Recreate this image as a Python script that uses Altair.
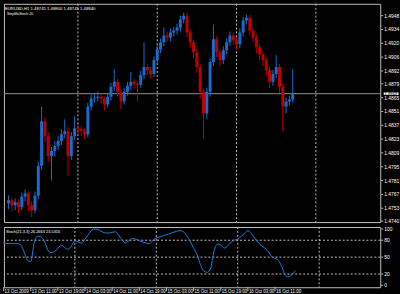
import altair as alt
import pandas as pd

# ---- data (hours since 13 Oct 2009 00:00, H1 bars) ----
hours = list(range(3, 90))
opens = [1.4758,1.4761,1.4756,1.4759,1.4754,1.4765,1.4768,1.4756,1.4751,1.4766,
         1.4796,1.4841,1.4826,1.4806,1.4811,1.4816,1.4821,1.4828,1.4831,1.4806,
         1.4826,1.4834,1.4833,1.4831,1.4828,1.4856,1.4864,1.4865,1.4866,1.4864,
         1.4858,1.4866,1.4876,1.4881,1.4871,1.4861,1.4871,1.4877,1.4881,1.4879,
         1.4878,1.4888,1.4896,1.4893,1.4889,1.4903,1.4914,1.4921,1.4928,1.4926,
         1.4931,1.4933,1.4936,1.4944,1.4948,1.4931,1.4921,1.4911,1.4896,1.4871,
         1.4849,1.4871,1.4901,1.4924,1.4911,1.4903,1.4913,1.4921,1.4928,1.4923,
         1.4919,1.4931,1.4943,1.4946,1.4933,1.4926,1.4916,1.4909,1.4903,1.4893,
         1.4881,1.4889,1.4896,1.4876,1.4856,1.4861,1.4863]
highs = [1.4766,1.4764,1.4763,1.4762,1.4769,1.4772,1.4770,1.4760,1.4770,1.4800,
         1.4856,1.4845,1.4830,1.4815,1.4821,1.4826,1.4833,1.4843,1.4835,1.4830,
         1.4846,1.4838,1.4836,1.4834,1.4860,1.4868,1.4869,1.4871,1.4869,1.4866,
         1.4870,1.4880,1.4894,1.4884,1.4874,1.4875,1.4881,1.4891,1.4884,1.4882,
         1.4892,1.4921,1.4899,1.4896,1.4907,1.4918,1.4925,1.4936,1.4932,1.4935,
         1.4937,1.4940,1.4948,1.4951,1.4951,1.4934,1.4924,1.4914,1.4899,1.4874,
         1.4875,1.4905,1.4939,1.4927,1.4914,1.4917,1.4925,1.4932,1.4931,1.4926,
         1.4935,1.4947,1.4949,1.4949,1.4936,1.4929,1.4919,1.4912,1.4906,1.4896,
         1.4893,1.4908,1.4899,1.4879,1.4865,1.4867,1.4894]
lows = [1.4752,1.4750,1.4751,1.4748,1.4751,1.4760,1.4750,1.4744,1.4748,1.4762,
        1.4792,1.4820,1.4800,1.4781,1.4805,1.4812,1.4817,1.4824,1.4786,1.4802,
        1.4822,1.4828,1.4826,1.4823,1.4825,1.4852,1.4860,1.4861,1.4859,1.4852,
        1.4855,1.4862,1.4872,1.4866,1.4853,1.4858,1.4867,1.4873,1.4874,1.4861,
        1.4875,1.4884,1.4888,1.4884,1.4886,1.4899,1.4910,1.4917,1.4921,1.4922,
        1.4927,1.4929,1.4932,1.4940,1.4926,1.4916,1.4905,1.4890,1.4864,1.4824,
        1.4843,1.4866,1.4897,1.4906,1.4897,1.4899,1.4909,1.4917,1.4918,1.4914,
        1.4915,1.4927,1.4939,1.4928,1.4921,1.4910,1.4903,1.4897,1.4887,1.4875,
        1.4877,1.4885,1.4870,1.4831,1.4849,1.4857,1.4860]
closes = [1.4761,1.4756,1.4759,1.4754,1.4765,1.4768,1.4756,1.4751,1.4766,1.4796,
          1.4841,1.4826,1.4806,1.4811,1.4816,1.4821,1.4828,1.4831,1.4806,1.4826,
          1.4834,1.4833,1.4831,1.4828,1.4856,1.4864,1.4865,1.4866,1.4864,1.4858,
          1.4866,1.4876,1.4881,1.4871,1.4861,1.4871,1.4877,1.4881,1.4879,1.4878,
          1.4888,1.4896,1.4893,1.4889,1.4903,1.4914,1.4921,1.4928,1.4926,1.4931,
          1.4933,1.4936,1.4944,1.4948,1.4931,1.4921,1.4911,1.4896,1.4871,1.4849,
          1.4871,1.4901,1.4924,1.4911,1.4903,1.4913,1.4921,1.4928,1.4923,1.4919,
          1.4931,1.4943,1.4946,1.4933,1.4926,1.4916,1.4909,1.4903,1.4893,1.4881,
          1.4889,1.4896,1.4876,1.4856,1.4861,1.4863,1.4869]
stoch = [75,74,74,74,74,72,60,45,42,75,
         87,86,78,63,58,60,66,71,67,64,
         70,79,77,75,82,90,98,100,99,95,
         93,93,94,95,88,80,75,80,83,82,
         79,77,75,74,80,84,86,88,90,92,
         94,96,97,95,88,78,66,55,37,25,
         23,30,60,73,72,66,70,76,80,82,
         87,92,97,92,84,76,70,66,60,51,
         48,44,33,18,15,19,26]

price_ticks = [1.4948, 1.4934, 1.4920, 1.4906, 1.4892, 1.4879, 1.4865, 1.4851,
               1.4837, 1.4823, 1.4809, 1.4795, 1.4781, 1.4767, 1.4753, 1.4740]
time_tick_hours = [3, 11, 19, 27, 35, 43, 51, 59, 67, 75, 83]
time_tick_labels = ["13 Oct 2009", "13 Oct 11:00", "13 Oct 19:00", "14 Oct 03:00",
                    "14 Oct 11:00", "14 Oct 19:00", "15 Oct 03:00", "15 Oct 11:00",
                    "15 Oct 19:00", "16 Oct 03:00", "16 Oct 11:00"]
day_lines = [24, 48, 72, 96]
stoch_levels = [20, 50, 80]
stoch_ticks = [0, 20, 50, 80, 100]

header = "EURUSD,H1  1.48745 1.48800 1.48745 1.48840"
indicator = "StepMaStoch 20"
stoch_title = "Stoch(21,3,3) 26.2663 23.5316"

# ---- styling ----
GRID = "#c0c0c0"
FONT = "Liberation Sans"
W = 381
H_TOP = 221
H_BOT = 61

df = pd.DataFrame({"h": hours, "open": opens, "high": highs, "low": lows,
                   "close": closes, "stoch": stoch})
df["dir"] = ["up" if c >= o else "down" for o, c in zip(opens, closes)]
last = df.tail(1)

xscale = alt.Scale(domain=[3.1, 114.0], nice=False, zero=False)
yscale = alt.Scale(domain=[1.4739, 1.4960], nice=False, zero=False)
sscale = alt.Scale(domain=[-3.5, 103.5], nice=False, zero=False)

body_color = alt.Color("dir:N", scale=alt.Scale(domain=["up", "down"],
                       range=["#1e90ff", "#ff0000"]), legend=None)
wick_color = alt.Color("dir:N", scale=alt.Scale(domain=["up", "down"],
                       range=["#1a6ccc", "#c00000"]), legend=None)

days = pd.DataFrame({"h": day_lines})
ptick_df = pd.DataFrame({"p": price_ticks})

vgrid_top = alt.Chart(days).mark_rule(strokeDash=[2, 2], color=GRID, strokeWidth=1).encode(
    x=alt.X("h:Q", scale=xscale, axis=None))

bid = alt.Chart(last).mark_rule(color="#909090", strokeWidth=1).encode(
    y=alt.Y("close:Q", scale=yscale, axis=None))

wicks = alt.Chart(df).mark_rule(clip=True, strokeWidth=1).encode(
    x=alt.X("h:Q", scale=xscale, axis=None),
    y=alt.Y("low:Q", scale=yscale, axis=None),
    y2="high:Q",
    color=wick_color)

bodies = alt.Chart(df).mark_bar(size=3, clip=True).encode(
    x=alt.X("h:Q", scale=xscale, axis=None),
    y=alt.Y("open:Q", scale=yscale, axis=None),
    y2="close:Q",
    color=body_color)

# right price scale: ticks and labels
paxis = alt.Chart(ptick_df).mark_rule(color="#c0c0c0", strokeWidth=1).encode(
    x=alt.value(W + 1), x2=alt.value(W + 3), y=alt.Y("p:Q", scale=yscale, axis=None))
plabels = alt.Chart(ptick_df).mark_text(fontSize=5, font=FONT, color="#ffffff",
                                        align="left", baseline="middle").encode(
    x=alt.value(W + 4), y=alt.Y("p:Q", scale=yscale, axis=None),
    text=alt.Text("p:Q", format=".4f"))

tag_shape = "M-1,-0.17L1,-0.17L1,0.17L-1,0.17Z"
tag = alt.Chart(last).mark_point(shape=tag_shape, size=225, filled=True, color="#ffffff",
                                 opacity=1).encode(x=alt.value(W + 11),
                                                   y=alt.Y("close:Q", scale=yscale, axis=None))
tag_text = alt.Chart(last).mark_text(fontSize=4.3, font=FONT, color="#000000", align="left",
                                     baseline="middle").encode(
    x=alt.value(W + 4), y=alt.Y("close:Q", scale=yscale, axis=None),
    text=alt.Text("close:Q", format=".4f"))

hdr = alt.Chart(pd.DataFrame({"t": [header]})).mark_text(
    fontSize=4.3, font=FONT, color="#ffffff", align="left", baseline="top").encode(
    x=alt.value(1), y=alt.value(3), text="t:N")
ind = alt.Chart(pd.DataFrame({"t": [indicator]})).mark_text(
    fontSize=3.6, font=FONT, color="#ffffff", align="left", baseline="top").encode(
    x=alt.value(3), y=alt.value(8), text="t:N")

top = alt.layer(vgrid_top, bid, wicks, bodies, paxis, plabels, tag, tag_text, hdr, ind
                ).properties(width=W, height=H_TOP)

# ---- stochastic panel ----
tdf = pd.DataFrame({"h": time_tick_hours, "label": time_tick_labels})
sdf = pd.DataFrame({"v": stoch_ticks})

vgrid_bot = alt.Chart(days).mark_rule(strokeDash=[2, 2], color=GRID, strokeWidth=1).encode(
    x=alt.X("h:Q", scale=xscale, axis=None))
levels = alt.Chart(pd.DataFrame({"v": stoch_levels})).mark_rule(
    strokeDash=[2, 2], color=GRID, strokeWidth=1).encode(
    y=alt.Y("v:Q", scale=sscale, axis=None))

sline = alt.Chart(df).mark_line(color="#1f7ee0", strokeWidth=1, interpolate="monotone").encode(
    x=alt.X("h:Q", scale=xscale, axis=None),
    y=alt.Y("stoch:Q", scale=sscale, axis=None))

saxis = alt.Chart(sdf).mark_rule(color="#c0c0c0", strokeWidth=1).encode(
    x=alt.value(W + 1), x2=alt.value(W + 3), y=alt.Y("v:Q", scale=sscale, axis=None))
slabels = alt.Chart(sdf).mark_text(fontSize=5, font=FONT, color="#ffffff",
                                   align="left", baseline="middle").encode(
    x=alt.value(W + 4), y=alt.Y("v:Q", scale=sscale, axis=None), text="v:Q")

tticks = alt.Chart(tdf).mark_rule(color="#c0c0c0", strokeWidth=1).encode(
    x=alt.X("h:Q", scale=xscale, axis=None), y=alt.value(H_BOT), y2=alt.value(H_BOT + 4))
tlabels = alt.Chart(tdf).mark_text(fontSize=4.5, font=FONT, color="#ffffff",
                                   align="left", baseline="top", dx=1).encode(
    x=alt.X("h:Q", scale=xscale, axis=None), y=alt.value(H_BOT + 2), text="label:N")

stxt = alt.Chart(pd.DataFrame({"t": [stoch_title]})).mark_text(
    fontSize=4, font=FONT, color="#ffffff", align="left", baseline="top").encode(
    x=alt.value(2), y=alt.value(3), text="t:N")

bottom = alt.layer(vgrid_bot, levels, sline, saxis, slabels, tticks, tlabels, stxt
                   ).properties(width=W, height=H_BOT)

chart = alt.vconcat(top, bottom, spacing=1).properties(
    background="#000000",
    padding={"left": 1, "top": 1, "right": 0, "bottom": 0},
).configure_view(stroke="#c0c0c0", strokeWidth=1, fill="#000000")

chart.save("out.html", embed_options={"renderer": "svg", "actions": False})
